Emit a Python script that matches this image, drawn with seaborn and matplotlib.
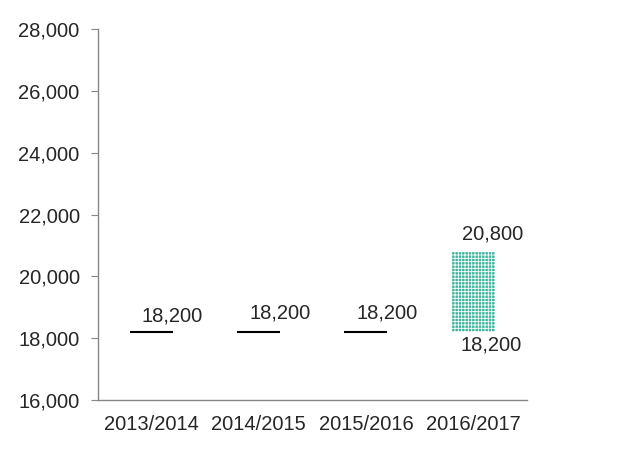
import numpy as np
import pandas as pd
import seaborn as sns
import matplotlib.pyplot as plt

# data
seasons = ["2013/2014", "2014/2015", "2015/2016", "2016/2017"]
low_vals = [18200, 18200, 18200, 18200]
high_vals = [18200, 18200, 18200, 20800]

sns.set_style("white")
plt.rcParams['font.family'] = ['Liberation Sans', 'DejaVu Sans']
plt.rcParams['hatch.linewidth'] = 0.6

df = pd.DataFrame({"season": seasons, "low": low_vals, "high": high_vals})
df["span"] = df["high"] - df["low"]

fs = 14.5
px = 0.72  # points per pixel at 100 dpi

fig = plt.figure(figsize=(6.19, 4.69), dpi=100)
ax = fig.add_axes([0.158, 0.147, 0.693, 0.791])

sns.barplot(data=df, x="season", y="span", bottom=df["low"].values,
            width=0.4, color="#3fb5a0", ax=ax, saturation=1)

for p, (_, row) in zip(ax.patches, df.iterrows()):
    if row["span"] == 0:
        p.set_visible(False)
        x0 = p.get_x()
        ax.plot([x0, x0 + p.get_width()], [row["low"], row["low"]],
                color="black", lw=1.5, solid_capstyle="butt")
    else:
        p.set_hatch("+++++")
        p.set_edgecolor("white")
        p.set_linewidth(0)

# labels
for i, (_, row) in enumerate(df.iterrows()):
    if row["span"] == 0:
        dy = 16 if i == 0 else 19
        ax.annotate(f"{row['low']:,.0f}", (i, row["low"]), xytext=(21 * px, dy * px),
                    textcoords="offset points", ha="center", va="center", fontsize=fs)
    else:
        ax.annotate(f"{row['high']:,.0f}", (i, row["high"]), xytext=(19 * px, 18 * px),
                    textcoords="offset points", ha="center", va="center", fontsize=fs)
        ax.annotate(f"{row['low']:,.0f}", (i, row["low"]), xytext=(18 * px, -13 * px),
                    textcoords="offset points", ha="center", va="center", fontsize=fs)

ax.set_ylim(16000, 28000)
ax.set_xlim(-0.5, 3.5)
ax.set_yticks(np.arange(16000, 28001, 2000))
ax.yaxis.set_major_formatter(plt.FuncFormatter(lambda v, _: f"{v:,.0f}"))
ax.set_xlabel("")
ax.set_ylabel("")

for s in ["top", "right"]:
    ax.spines[s].set_visible(False)
for s in ["left", "bottom"]:
    ax.spines[s].set_color("#868686")
    ax.spines[s].set_linewidth(1)

ax.set_xticks([0, 1, 2, 3])
ax.set_xticklabels(seasons)
ax.set_xticks([-0.5, 0.5, 1.5, 2.5, 3.5], minor=True)
ax.tick_params(axis="x", which="major", length=0, labelsize=fs, pad=11)
ax.tick_params(axis="x", which="minor", length=5, color="#868686", direction="out")
ax.tick_params(axis="y", length=5, color="#868686", direction="out", labelsize=fs,
               left=True, pad=8)

fig.savefig("out.png", dpi=100)
